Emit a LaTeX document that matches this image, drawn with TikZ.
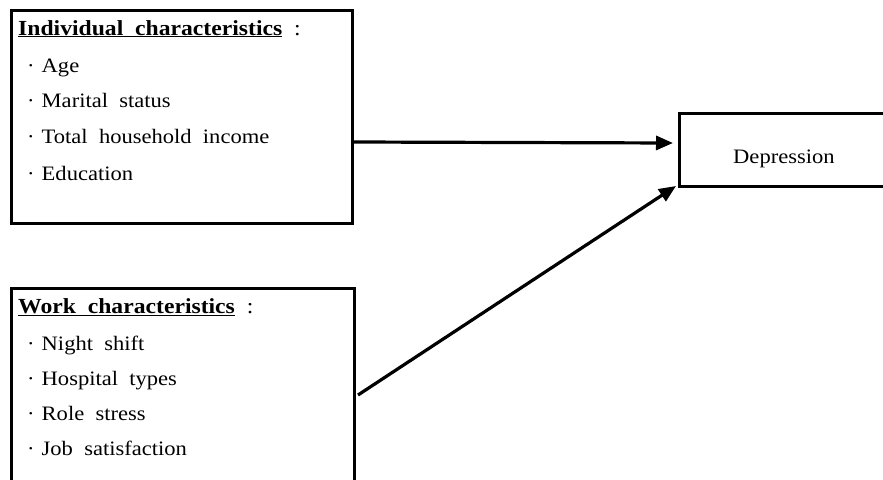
\documentclass[tikz,border=0pt]{standalone}
\usepackage{fontspec}
\setmainfont{Liberation Serif}[FakeStretch=1.1,WordSpace=2.0]
\usetikzlibrary{arrows.meta,calc}
\begin{document}
\begin{tikzpicture}[x=1pt,y=-1pt,
  box/.style={draw,line width=3pt,inner sep=0pt,anchor=north west},
  txt/.style={anchor=base west,inner sep=0pt,font=\fontsize{20.5}{24}\selectfont},
  head/.style={anchor=base west,inner sep=0pt,font=\fontsize{21.5}{24}\selectfont},
  conn/.style={line width=3.2pt,-{Triangle[length=17pt,width=14pt]}}]
\clip (0,0) rectangle (883,479);
\fill[white] (0,0) rectangle (883,479);
% boxes
\node[box,minimum width=341pt,minimum height=213pt] (ind) at (10,9) {};
\node[box,minimum width=343pt,minimum height=240pt] (work) at (10,287) {};
\node[box,minimum width=260pt,minimum height=73pt] (dep) at (678,112) {};
% texts
\node[head] (h1) at (18,35) {\textbf{\underline{Individual characteristics}}\ :};
\node[txt] (a1) at (27,72) {·\hspace{7pt}Age};
\node[txt] (a2) at (27,107) {·\hspace{7pt}Marital status};
\node[txt] (a3) at (27,143) {·\hspace{7pt}Total household income};
\node[txt] (a4) at (27,180) {·\hspace{7pt}Education};
\node[head] (h2) at (18,313) {\textbf{\underline{Work characteristics}}\ :};
\node[txt] (b1) at (27,350) {·\hspace{7pt}Night shift};
\node[txt] (b2) at (27,385) {·\hspace{7pt}Hospital types};
\node[txt] (b3) at (27,420) {·\hspace{7pt}Role stress};
\node[txt] (b4) at (27,455) {·\hspace{7pt}Job satisfaction};
\node[txt] (dl) at (733,163) {Depression};
% connectors
\draw[conn] ($(ind.north east)+(0,133)$) -- ($(dep.north west)+(-5,31)$);
\draw[conn] ($(work.north east)+(2,108)$) -- ($(dep.south west)+(-2,-2)$);
\end{tikzpicture}
\end{document}
